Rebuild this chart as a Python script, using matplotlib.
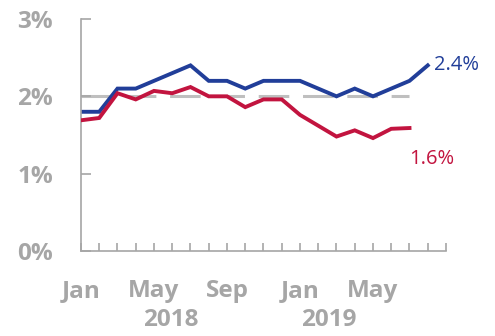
import matplotlib.pyplot as plt
from matplotlib.transforms import blended_transform_factory

# monthly inflation, Jan 2018 onwards (%)
months = ["Jan", "Feb", "Mar", "Apr", "May", "Jun", "Jul", "Aug", "Sep", "Oct", "Nov", "Dec",
          "Jan", "Feb", "Mar", "Apr", "May", "Jun", "Jul", "Aug"]
blue_vals = [1.8, 1.8, 2.1, 2.1, 2.2, 2.3, 2.4, 2.2, 2.2, 2.1, 2.2, 2.2,
             2.2, 2.1, 2.0, 2.1, 2.0, 2.1, 2.2, 2.4]
red_vals = [1.69, 1.72, 2.04, 1.96, 2.07, 2.04, 2.12, 2.0, 2.0, 1.86, 1.96, 1.96,
            1.76, 1.62, 1.48, 1.56, 1.46, 1.58, 1.59]
target_vals = [2.0] * 19
shown_labels = {0: "Jan", 4: "May", 8: "Sep", 12: "Jan", 16: "May"}
years = [("2018", 4.9), ("2019", 13.6)]

BLUE = "#213e99"
RED = "#c2143f"
GREY = "#a6a6a6"
FONT = "Open Sans"

fig = plt.figure(figsize=(4.95, 3.36), dpi=100)
ax = fig.add_axes([0.1636, 0.253, 0.9010 - 0.1636, 0.9435 - 0.253])

ax.plot(range(len(target_vals)), target_vals, color="#bfbfbf", lw=2.2,
        dashes=(10, 4.5), solid_capstyle="butt", zorder=1)
ax.plot(range(len(blue_vals)), blue_vals, color=BLUE, lw=2.8, zorder=2,
        solid_joinstyle="miter")
ax.plot(range(len(red_vals)), red_vals, color=RED, lw=2.8, zorder=3,
        solid_joinstyle="miter")

ax.text(len(blue_vals) - 1 + 0.35, blue_vals[-1], f"{blue_vals[-1]:.1f}%", color=BLUE,
        fontsize=14.5, family=FONT, va="center", ha="left")
ax.text(len(red_vals) - 1, 1.19, f"{red_vals[-1]:.1f}%", color=RED,
        fontsize=14.5, family=FONT, va="center", ha="left")

ax.set_xlim(0, 20)
ax.set_ylim(0, 3)

ax.set_yticks([0, 1, 2, 3])
ax.set_yticklabels([f"{v}%" for v in range(4)])
ax.set_xticks(range(21))
ax.set_xticklabels([shown_labels.get(i, "") for i in range(21)])

for s in ["top", "right"]:
    ax.spines[s].set_visible(False)
for s in ["left", "bottom"]:
    ax.spines[s].set_color(GREY)
    ax.spines[s].set_linewidth(1.2)

ax.tick_params(axis="y", direction="in", length=7, width=1.2, color=GREY, pad=20,
               labelcolor=GREY, labelsize=17.5)
ax.tick_params(axis="x", direction="in", length=5.5, width=1.2, color=GREY, pad=20,
               labelcolor=GREY, labelsize=17.5)
for lab in ax.get_xticklabels() + ax.get_yticklabels():
    lab.set_family(FONT)
    lab.set_fontweight("bold")

trans = blended_transform_factory(ax.transData, ax.transAxes)
for yr, xpos in years:
    ax.text(xpos, -0.297, yr, transform=trans, ha="center", va="center",
            color=GREY, fontsize=17.5, family=FONT, fontweight="bold")

fig.savefig("out.png", dpi=100)
